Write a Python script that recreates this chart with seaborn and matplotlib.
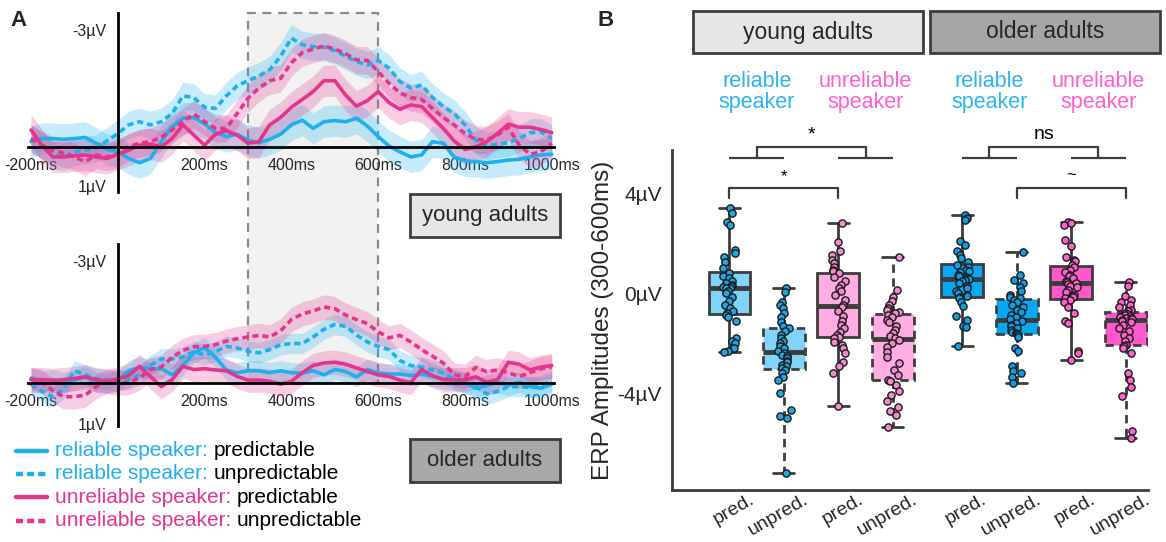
import numpy as np
import pandas as pd
import seaborn as sns
import matplotlib.pyplot as plt
from matplotlib.patches import Rectangle
from matplotlib.lines import Line2D
from matplotlib.transforms import ScaledTranslation
from matplotlib.offsetbox import TextArea, DrawingArea, HPacker, VPacker, AnchoredOffsetbox

sns.set_style('white')
plt.rcParams['font.family'] = ['Liberation Sans', 'DejaVu Sans']

# ========== data ==========
times = np.arange(-200, 1001, 25)   # ms, sampling grid of the ERP traces

# young adults, µV (negative up)
young_rel_pred = [-0.13, -0.21, -0.21, -0.19, -0.21, -0.24, -0.09, 0.07, 0.13,
                  0.30, 0.41, 0.30, -0.13, -0.51, -0.73, -0.75, -0.58,
                  -0.36, -0.26, -0.32, -0.17, -0.10, -0.19, -0.32, -0.56,
                  -0.68, -0.47, -0.64, -0.67, -0.64, -0.73, -0.53, -0.26,
                  -0.02, 0.13, 0.26, 0.21, -0.13, -0.09, 0.26, 0.36,
                  0.38, 0.41, 0.38, 0.34, 0.32, 0.26, 0.21, 0.19]
young_rel_unpred = [-0.21, -0.04, 0.21, 0.26, 0.13, 0.09, 0.04, -0.15, -0.34,
                    -0.56, -0.64, -0.56, -0.64, -0.85, -1.30, -1.26, -1.01,
                    -0.98, -1.30, -1.56, -1.69, -1.81, -1.97, -2.31, -2.78,
                    -2.61, -2.56, -2.55, -2.46, -2.32, -2.18, -2.09, -2.21,
                    -2.01, -1.67, -1.50, -1.58, -1.26, -1.03, -0.85, -0.56,
                    -0.17, -0.02, -0.07, -0.10, -0.21, -0.36, -0.38, -0.21]
young_unrel_pred = [-0.43, -0.04, 0.26, 0.26, 0.23, 0.21, 0.26, 0.30, 0.19,
                    0.09, -0.04, -0.07, 0.00, -0.21, -0.56, -0.30, -0.04,
                    -0.32, -0.41, -0.30, -0.09, -0.13, -0.56, -0.75, -1.01,
                    -1.21, -1.41, -1.69, -1.69, -1.32, -1.04, -1.18, -1.41,
                    -1.13, -0.96, -1.07, -1.03, -0.75, -0.47, -0.15, 0.07,
                    0.00, -0.13, -0.34, -0.58, -0.50, -0.50, -0.44, -0.36]
young_unrel_unpred = [-0.21, -0.04, 0.09, 0.17, 0.26, 0.38, 0.21, 0.26, 0.19,
                      0.00, -0.09, -0.13, -0.24, -0.43, -0.64, -0.84, -0.64,
                      -0.47, -0.47, -0.85, -1.24, -1.50, -1.69, -1.75, -2.15,
                      -2.41, -2.50, -2.58, -2.50, -2.38, -2.22, -2.21, -1.92,
                      -1.62, -1.38, -1.26, -1.21, -0.98, -0.75, -0.56, -0.34,
                      -0.19, -0.17, -0.30, -0.50, -0.04, 0.19, 0.13, -0.09]

# older adults
older_rel_pred = [-0.13, -0.05, -0.09, -0.02, -0.08, -0.16, -0.03, 0.00, -0.05,
                  -0.31, -0.40, -0.36, -0.36, -0.21, -0.44, -0.75, -0.88,
                  -0.64, -0.33, -0.26, -0.31, -0.31, -0.26, -0.31, -0.26,
                  -0.25, -0.31, -0.21, -0.34, -0.29, -0.16, -0.34, -0.26,
                  -0.23, -0.23, -0.19, -0.23, -0.17, -0.11, -0.08, -0.03,
                  0.12, 0.05, -0.02, 0.05, -0.03, 0.08, 0.12, 0.02]
older_rel_unpred = [0.02, 0.20, 0.33, 0.14, -0.31, -0.21, -0.11, -0.09, -0.09,
                    -0.09, -0.21, -0.44, -0.60, -0.60, -0.65, -0.78, -0.70,
                    -0.78, -0.91, -0.87, -0.79, -0.75, -0.83, -0.95, -0.98,
                    -0.98, -1.14, -1.33, -1.45, -1.40, -1.19, -1.02, -0.91,
                    -0.83, -0.56, -0.44, -0.40, -0.33, -0.25, -0.09, 0.00,
                    0.08, 0.26, 0.20, 0.08, 0.08, 0.10, 0.05, -0.05]
older_unrel_pred = [-0.09, -0.09, -0.07, -0.09, -0.12, -0.16, -0.09, -0.05, -0.11,
                    -0.19, -0.42, -0.17, 0.08, -0.09, -0.42, -0.34, -0.36,
                    -0.33, -0.31, -0.17, -0.08, -0.08, -0.05, 0.02, -0.05,
                    -0.26, -0.44, -0.50, -0.52, -0.47, -0.38, -0.29, -0.21,
                    -0.17, -0.08, -0.02, -0.34, -0.19, -0.09, -0.09, -0.09,
                    -0.16, -0.03, -0.09, -0.52, -0.47, -0.33, -0.40, -0.44]
older_unrel_unpred = [-0.09, -0.05, 0.18, 0.33, 0.33, 0.29, 0.08, -0.05, 0.00,
                      -0.02, -0.13, -0.34, -0.40, -0.64, -0.81, -0.90, -0.91,
                      -0.95, -1.04, -1.10, -1.14, -1.18, -1.14, -1.29, -1.57,
                      -1.71, -1.78, -1.88, -1.84, -1.68, -1.57, -1.47, -1.27,
                      -1.12, -1.18, -1.02, -0.83, -0.67, -0.50, -0.21, -0.17,
                      -0.39, -0.29, -0.33, -0.26, -0.17, -0.26, -0.36, -0.40]

# half width of the shaded error bands (rel_pred, rel_unpred, unrel_pred, unrel_unpred)
young_band = [0.40, 0.35, 0.40, 0.35]
older_band = [0.25, 0.25, 0.30, 0.30]

# ERP amplitudes 300-600ms, one value per participant
yr_pred = [3.4, 3.2, 2.85, 2.75, 1.75, 1.6, 1.45, 1.25, 1.0,
           0.8, 0.7, 0.6, 0.5, 0.4, 0.35, 0.3, 0.25, 0.22,
           0.2, 0.1, 0.0, -0.15, -0.3, -0.45, -0.6, -0.7, -0.8,
           -0.85, -0.95, -1.1, -1.8, -1.9, -2.0, -2.2, -2.3, -2.35]
yr_unpred = [0.2, 0.05, -0.35, -0.45, -0.6, -0.8, -0.95, -1.15, -1.3,
             -1.4, -1.5, -1.65, -1.8, -1.9, -2.0, -2.1, -2.2, -2.3,
             -2.4, -2.45, -2.5, -2.6, -2.7, -2.75, -2.85, -2.9, -3.0,
             -3.05, -3.2, -3.35, -3.45, -4.0, -4.65, -4.9, -5.0, -7.2]
yu_pred = [2.8, 2.05, 1.7, 1.55, 1.35, 1.2, 1.05, 0.95, 0.88,
           0.8, 0.65, 0.5, 0.35, 0.2, 0.1, -0.05, -0.25, -0.45,
           -0.55, -0.7, -0.9, -1.1, -1.25, -1.4, -1.55, -1.65, -1.75,
           -1.8, -1.95, -2.05, -2.2, -2.4, -2.75, -2.9, -3.2, -4.5]
yu_unpred = [1.45, 0.15, -0.15, -0.3, -0.45, -0.6, -0.68, -0.75, -0.8,
             -0.85, -0.95, -1.05, -1.15, -1.3, -1.45, -1.6, -1.7, -1.8,
             -1.88, -2.0, -2.15, -2.35, -2.55, -2.8, -3.05, -3.25, -3.45,
             -3.5, -3.65, -3.9, -4.05, -4.3, -4.55, -4.7, -4.85, -5.35]
or_pred = [3.15, 3.0, 2.95, 2.1, 1.95, 1.7, 1.55, 1.4, 1.25,
           1.15, 1.05, 0.95, 0.9, 0.85, 0.75, 0.7, 0.62, 0.58,
           0.55, 0.5, 0.4, 0.3, 0.2, 0.1, 0.0, -0.05, -0.12,
           -0.15, -0.2, -0.35, -0.5, -0.9, -1.05, -1.3, -1.35, -2.1]
or_unpred = [1.65, 0.75, 0.55, 0.4, 0.25, 0.1, -0.05, -0.15, -0.2,
             -0.25, -0.35, -0.45, -0.55, -0.65, -0.75, -0.85, -0.95, -1.03,
             -1.1, -1.18, -1.25, -1.32, -1.4, -1.47, -1.53, -1.58, -1.62,
             -1.65, -1.75, -2.2, -2.3, -2.9, -3.1, -3.2, -3.35, -3.6]
ou_pred = [2.85, 2.8, 2.75, 2.15, 1.9, 1.45, 1.35, 1.3, 1.15,
           1.05, 0.95, 0.85, 0.75, 0.7, 0.6, 0.5, 0.45, 0.42,
           0.38, 0.3, 0.25, 0.15, 0.05, -0.05, -0.1, -0.15, -0.2,
           -0.25, -0.35, -0.55, -0.8, -1.1, -1.2, -2.3, -2.4, -2.65]
ou_unpred = [0.45, 0.3, -0.1, -0.25, -0.35, -0.45, -0.55, -0.65, -0.72,
             -0.78, -0.82, -0.86, -0.9, -0.95, -0.98, -1.0, -1.03, -1.06,
             -1.09, -1.15, -1.25, -1.4, -1.5, -1.65, -1.8, -1.9, -2.05,
             -2.1, -2.2, -2.4, -3.2, -3.45, -3.75, -4.1, -5.5, -5.8]

box_data = [yr_pred, yr_unpred, yu_pred, yu_unpred, or_pred, or_unpred, ou_pred, ou_unpred]
box_ticklabels = ['pred.', 'unpred.', 'pred.', 'unpred.', 'pred.', 'unpred.', 'pred.', 'unpred.']
groups = ['young adults', 'older adults']
speakers = ['reliable', 'unreliable']
conditions = ['predictable', 'unpredictable']

# ========== styles ==========
W, H = 1166, 542
BLUE = '#1cb0ef'
PINK = '#e6348d'
BLUE_TXT = '#2ab5f0'
PINK_TXT = '#ff5fcb'
DARK = '#3d3d3d'
box_fill = ['#80d3f9', '#80d3f9', '#ffade3', '#ffade3', '#05a9f4', '#05a9f4', '#ff57cc', '#ff57cc']
dot_fill = ['#22a6e0', '#22a6e0', '#f28ad0', '#f28ad0', '#0b9fe6', '#0b9fe6', '#ff5fcf', '#ff5fcf']


def fx(px):
    return px / W


def fy(py):
    return 1 - py / H


fig = plt.figure(figsize=(W / 100, H / 100), dpi=100)


def draw_erp(ax, series, bands, ylow):
    cols = [BLUE, BLUE, PINK, PINK]
    rows = []
    for k, vals in enumerate(series):
        v = np.asarray(vals)
        ax.fill_between(times, v - bands[k], v + bands[k], color=cols[k], alpha=0.25, lw=0, zorder=1)
        rows.append(pd.DataFrame({'time': times, 'amp': v,
                                  'speaker': speakers[k // 2], 'cond': conditions[k % 2]}))
    df = pd.concat(rows, ignore_index=True)
    sns.lineplot(data=df, x='time', y='amp', hue='speaker', style='cond',
                 palette={'reliable': BLUE, 'unreliable': PINK},
                 dashes={'predictable': '', 'unpredictable': (1.7, 1.1)},
                 linewidth=2.6, legend=False, errorbar=None, ax=ax, zorder=2)

    ax.set_xlim(-207, 1004)
    ax.set_ylim(ylow, -3.43)
    ax.set_facecolor('none')
    ax.set_xlabel('')
    ax.set_ylabel('')
    for s in ['top', 'right']:
        ax.spines[s].set_visible(False)
    for s in ['left', 'bottom']:
        ax.spines[s].set_position(('data', 0))
        ax.spines[s].set_linewidth(2)
        ax.spines[s].set_color('black')
        ax.spines[s].set_zorder(3)
    ax.set_xticks([-200, 200, 400, 600, 800, 1000])
    ax.set_xticklabels(['-200ms', '200ms', '400ms', '600ms', '800ms', '1000ms'])
    ax.set_xticks([-200, 1000], minor=True)
    ax.set_yticks([-3, -2, -1, 1])
    ax.set_yticklabels(['-3µV', '', '', '1µV'])
    ax.set_yticks([-3.43, ylow], minor=True)
    ax.tick_params(axis='both', which='major', direction='out', length=6, width=1.8,
                   labelsize=11.5, pad=2, color='black')
    ax.tick_params(axis='both', which='minor', direction='inout', length=12, width=1.8)


ax_y = fig.add_axes([fx(28), fy(191.7), 525.5 / W, 179 / H])
ax_o = fig.add_axes([fx(28), fy(426), 525.5 / W, 182 / H])
draw_erp(ax_y, [young_rel_pred, young_rel_unpred, young_unrel_pred, young_unrel_unpred], young_band, 1.15)
draw_erp(ax_o, [older_rel_pred, older_rel_unpred, older_unrel_pred, older_unrel_unpred], older_band, 1.05)

# analysis window 300-600ms spanning both ERP panels
inv = fig.transFigure.inverted()
x0f, y0f = inv.transform(ax_y.transData.transform((300, -3.43)))
x1f, y1f = inv.transform(ax_o.transData.transform((600, 0)))
fig.add_artist(Rectangle((x0f, y1f), x1f - x0f, y0f - y1f, transform=fig.transFigure,
                         fc='#f2f2f2', ec='#8a8a8a', ls=(0, (4, 3)), lw=1.6, zorder=-1))


def label_box(x0, y0, x1, y1, fc, text, size):
    fig.add_artist(Rectangle((fx(x0), fy(y1)), fx(x1) - fx(x0), fy(y0) - fy(y1),
                             transform=fig.transFigure, fc=fc, ec=DARK, lw=2))
    fig.text(fx((x0 + x1) / 2), fy((y0 + y1) / 2), text, ha='center', va='center', fontsize=size)


label_box(410, 194, 560, 237, '#e6e6e6', groups[0], 16)
label_box(410, 439, 560, 482, '#a8a8a8', groups[1], 16)

# legend of panel A
rows = []
for k in range(4):
    col = BLUE if k < 2 else PINK
    da = DrawingArea(22, 10, 0, 0)
    da.add_artist(Line2D([0, 22], [5, 5], color=col, lw=3.2,
                         linestyle='-' if k % 2 == 0 else (0, (1.6, 0.9))))
    t1 = TextArea(f'{speakers[k // 2]} speaker:', textprops=dict(color=col, fontsize=15))
    t2 = TextArea(conditions[k % 2], textprops=dict(color='black', fontsize=15))
    txt = HPacker(children=[t1, t2], align='baseline', pad=0, sep=4)
    rows.append(HPacker(children=[da, txt], align='center', pad=0, sep=6))
leg = VPacker(children=rows, align='left', pad=0, sep=3.2)
fig.add_artist(AnchoredOffsetbox(loc='upper left', child=leg, pad=0, borderpad=0, frameon=False,
                                 bbox_to_anchor=(fx(16), fy(441)), bbox_transform=fig.transFigure))

# ========== panel B ==========
ax_b = fig.add_axes([fx(672), fy(489.6), 476 / W, 339.3 / H])
positions = [i + 0.27 * (i // 4) for i in range(8)]
np.random.seed(3)
for i, vals in enumerate(box_data):
    ls = '-' if i % 2 == 0 else (0, (3, 2))
    xs = np.full(len(vals), positions[i])
    sns.boxplot(x=xs, y=vals, native_scale=True, orient='x', width=0.77, color=box_fill[i],
                saturation=1, whis=(0, 100), showfliers=False, linewidth=2, linecolor=DARK,
                boxprops={'linestyle': ls}, whiskerprops={'linestyle': ls},
                medianprops={'linewidth': 3.5, 'color': DARK, 'linestyle': '-'}, ax=ax_b)
    sns.stripplot(x=xs, y=vals, native_scale=True, orient='x', jitter=0.13, size=5.2,
                  color=dot_fill[i], edgecolor='#1a1a1a', linewidth=1, zorder=4, ax=ax_b)

ax_b.set_xlim(-1.055, 7.68)
ax_b.set_ylim(-7.85, 5.72)
ax_b.set_facecolor('none')
for s in ['top', 'right']:
    ax_b.spines[s].set_visible(False)
for s in ['left', 'bottom']:
    ax_b.spines[s].set_linewidth(2)
    ax_b.spines[s].set_color(DARK)
ax_b.set_yticks([4, 0, -4])
ax_b.set_yticklabels(['4µV', '0µV', '-4µV'])
ax_b.set_yticks([5.72], minor=True)
ax_b.set_xticks(positions)
ax_b.set_xticklabels(box_ticklabels, rotation=30, ha='right', va='top', rotation_mode='anchor')
ax_b.tick_params(axis='both', which='major', direction='out', length=6, width=1.8, color=DARK)
ax_b.tick_params(axis='y', labelsize=15, pad=1.5)
ax_b.tick_params(axis='x', labelsize=14, pad=3)
ax_b.tick_params(axis='y', which='minor', direction='inout', length=10, width=1.8, color=DARK)
for lbl in ax_b.get_xticklabels():
    lbl.set_transform(lbl.get_transform() + ScaledTranslation(0.19, 0.11, fig.dpi_scale_trans))
ax_b.set_ylabel('ERP Amplitudes (300-600ms)', fontsize=17.5, labelpad=2)
ax_b.set_xlabel('')
ax_b.grid(False)


def bracket_pair(a, b, c, d, label):
    lo, hi = 5.4, 5.85
    kw = dict(color=DARK, lw=1.6, clip_on=False, solid_capstyle='butt')
    ax_b.plot([a, b], [lo, lo], **kw)
    ax_b.plot([c, d], [lo, lo], **kw)
    m1, m2 = (a + b) / 2, (c + d) / 2
    ax_b.plot([m1, m1, m2, m2], [lo, hi, hi, lo], **kw)
    ax_b.text((m1 + m2) / 2, 6.35, label, ha='center', va='center', fontsize=14, color='black')


def bracket(a, b, label):
    kw = dict(color=DARK, lw=1.6, clip_on=False)
    ax_b.plot([a, a, b, b], [3.82, 4.22, 4.22, 3.82], **kw)
    ax_b.text((a + b) / 2, 4.68, label, ha='center', va='center', fontsize=12, color='black')


bracket_pair(positions[0], positions[1], positions[2], positions[3], '*')
bracket_pair(positions[4], positions[5], positions[6], positions[7], 'ns')
bracket(positions[0], positions[2], '*')
bracket(positions[5], positions[7], '~')

for k in range(4):
    mid = (positions[2 * k] + positions[2 * k + 1]) / 2
    ax_b.text(mid, 8.07, f'{speakers[k % 2]}\nspeaker', ha='center', va='center',
              fontsize=15.5, linespacing=1.0, color=BLUE_TXT if k % 2 == 0 else PINK_TXT)

label_box(693, 11, 923, 53, '#e6e6e6', groups[0], 16.5)
label_box(930, 11, 1160, 53, '#a6a6a6', groups[1], 16.5)

fig.text(fx(10), fy(20), 'A', fontsize=16, fontweight='bold', va='center')
fig.text(fx(598), fy(20), 'B', fontsize=16, fontweight='bold', va='center')

fig.savefig('out.png', dpi=100)
